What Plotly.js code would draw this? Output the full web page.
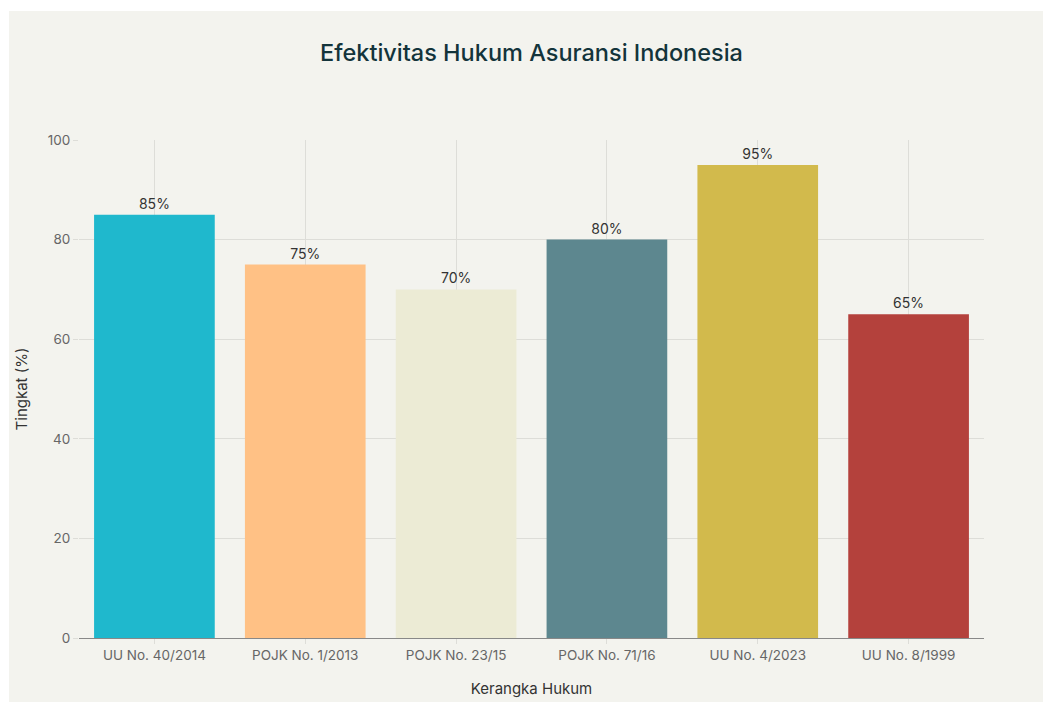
<!DOCTYPE html>
<html><head><meta charset="utf-8">
<script src="https://cdn.plot.ly/plotly-3.0.1.min.js"></script>
<style>
html,body{margin:0;padding:0;background:#ffffff;width:1043px;height:702px;overflow:hidden}
#chart{position:absolute;left:9px;top:11px;width:1034px;height:691px}
</style></head>
<body><div id="chart"></div>
<script>
const categories = ["UU No. 40/2014","POJK No. 1/2013","POJK No. 23/15","POJK No. 71/16","UU No. 4/2023","UU No. 8/1999"];
const values = [85,75,70,80,95,65];
const labels = ["85%","75%","70%","80%","95%","65%"];
const colors = ["#1FB8CD","#FFC185","#ECEBD5","#5D878F","#D2BA4C","#B4413C"];
const yTicks = [0,20,40,60,80,100];

const font = "Inter, 'Open Sans', sans-serif";
Plotly.newPlot('chart', [{
  type:'bar', x:categories, y:values, text:labels,
  textposition:'outside', cliponaxis:false,
  textfont:{family:font,size:14,color:'#333333'},
  marker:{color:colors,line:{width:0}},
  hoverinfo:'none'
}], {
  width:1034, height:691,
  paper_bgcolor:'#F3F3EE', plot_bgcolor:'#F3F3EE',
  margin:{l:70,r:59,t:129,b:64},
  bargap:0.2,
  title:{text:'Efektivitas Hukum Asuransi Indonesia', x:0.5053, xanchor:'center', y:0.94, yanchor:'middle',
    font:{family:font,size:23.5,color:'#13343B',weight:500}},
  font:{family:font,color:'#555555'},
  xaxis:{title:{text:'Kerangka Hukum',font:{family:font,size:15,color:'#333333'},standoff:21},
    tickfont:{family:font,size:13.5,color:'#666666'},
    showgrid:true, gridcolor:'#DDDDD8', gridwidth:1,
    showline:true, linecolor:'#888888', linewidth:1.2,
    ticks:'outside', ticklen:5, tickcolor:'#DDDDD8'},
  yaxis:{title:{text:'Tingkat (%)',font:{family:font,size:15,color:'#333333'},standoff:16},
    range:[0,100], tickvals:yTicks, ticktext:yTicks.map(String),
    tickfont:{family:font,size:13.5,color:'#666666'},
    showgrid:true, gridcolor:'#DDDDD8', gridwidth:1, zeroline:false,
    ticks:'outside', ticklen:5, tickcolor:'#DDDDD8'},
  showlegend:false
}, {displayModeBar:false, staticPlot:true});
</script></body></html>
